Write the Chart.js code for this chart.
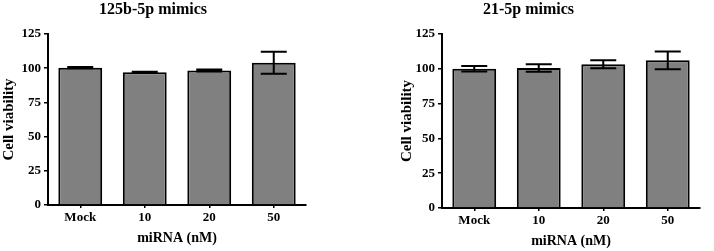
<!DOCTYPE html>
<html>
<head>
<meta charset="utf-8">
<script src="https://cdn.jsdelivr.net/npm/chart.js@4/dist/chart.umd.min.js"></script>
<style>
  html, body { margin: 0; padding: 0; background: #fff; }
  #wrap { width: 714px; height: 251px; display: flex; }
  .cell { width: 357px; height: 251px; position: relative; }
</style>
</head>
<body>
<div id="wrap">
  <div class="cell"><canvas id="c1" width="357" height="251"></canvas></div>
  <div class="cell"><canvas id="c2" width="357" height="251"></canvas></div>
</div>
<script>
// ---- data ----
const categories = ["Mock", "10", "20", "50"];
const yTicks = [0, 25, 50, 75, 100, 125];

const titleLeft = "125b-5p mimics";
const valuesLeft = [100.4, 97.1, 98.3, 104.0];
const errorsLeft = [0.4, 0.3, 0.8, 8.0];

const titleRight = "21-5p mimics";
const valuesRight = [100.0, 100.6, 103.3, 106.1];
const errorsRight = [2.0, 2.7, 2.9, 6.4];

const xTitle = "miRNA (nM)";
const yTitle = "Cell viability";

const FONT = "'Liberation Serif', 'Times New Roman', serif";

const errorBarPlugin = {
  id: 'errorBars',
  afterDatasetsDraw(chart, args, opts) {
    const ctx = chart.ctx;
    const meta = chart.getDatasetMeta(0);
    const ys = chart.scales.y;
    const vals = chart.data.datasets[0].data;
    const errs = opts.errors || [];
    ctx.save();
    ctx.strokeStyle = '#000';
    ctx.lineWidth = 2;
    meta.data.forEach((bar, i) => {
      const e = errs[i] || 0;
      const x = bar.x;
      const yt = ys.getPixelForValue(vals[i] + e);
      const yb = ys.getPixelForValue(vals[i] - e);
      const hw = 13;
      ctx.beginPath();
      ctx.moveTo(x, yt); ctx.lineTo(x, yb);
      ctx.moveTo(x - hw, yt); ctx.lineTo(x + hw, yt);
      ctx.moveTo(x - hw, yb); ctx.lineTo(x + hw, yb);
      ctx.stroke();
    });
    ctx.restore();
  }
};

function makeChart(id, title, values, errors, L) {
  return new Chart(document.getElementById(id), {
    type: 'bar',
    data: {
      labels: categories,
      datasets: [{
        data: values,
        backgroundColor: '#808080',
        borderColor: '#000',
        borderWidth: 2,
        barPercentage: 0.68,
        categoryPercentage: 1.0
      }]
    },
    plugins: [errorBarPlugin],
    options: {
      responsive: false,
      animation: false,
      devicePixelRatio: 1,
      layout: { padding: { left: 0, right: L.right, top: 0, bottom: 0 } },
      plugins: {
        legend: { display: false },
        tooltip: { enabled: false },
        title: {
          display: true,
          text: title,
          color: '#000',
          font: { family: FONT, size: 16, weight: 'bold' },
          padding: { top: 0, bottom: L.titleGap },
          align: 'center'
        },
        errorBars: { errors: errors }
      },
      scales: {
        x: {
          offset: true,
          afterFit(s) { s.height = L.xh; },
          grid: { display: true, drawOnChartArea: false, drawTicks: true, tickLength: 3, offset: false, color: '#000', lineWidth: 1.5 },
          border: { display: true, color: '#000', width: 2 },
          ticks: { color: '#000', padding: 2, font: { family: FONT, size: 13, weight: 'bold' } },
          title: { display: true, text: xTitle, color: '#000', font: { family: FONT, size: 14, weight: 'bold' }, padding: { top: 0, bottom: L.xtPad } }
        },
        y: {
          min: 0, max: 125,
          afterFit(s) { s.width = L.yw; },
          afterBuildTicks(s) { s.ticks = yTicks.map(v => ({ value: v })); },
          grid: { display: true, drawOnChartArea: false, drawTicks: true, tickLength: 4, color: '#000', lineWidth: 1.5 },
          border: { display: true, color: '#000', width: 2 },
          ticks: { color: '#000', padding: 3, font: { family: FONT, size: 13, weight: 'bold' } },
          title: { display: true, text: yTitle, color: '#000', font: { family: FONT, size: 15, weight: 'bold' }, padding: { top: L.ytPad, bottom: 0 } }
        }
      }
    }
  });
}

makeChart('c1', titleLeft, valuesLeft, errorsLeft, { right: 51, titleGap: 14.8, xh: 46, xtPad: 4, yw: 48, ytPad: 0 });
makeChart('c2', titleRight, valuesRight, errorsRight, { right: 14, titleGap: 14.8, xh: 43, xtPad: 1, yw: 85, ytPad: 41 });
</script>
</body>
</html>
